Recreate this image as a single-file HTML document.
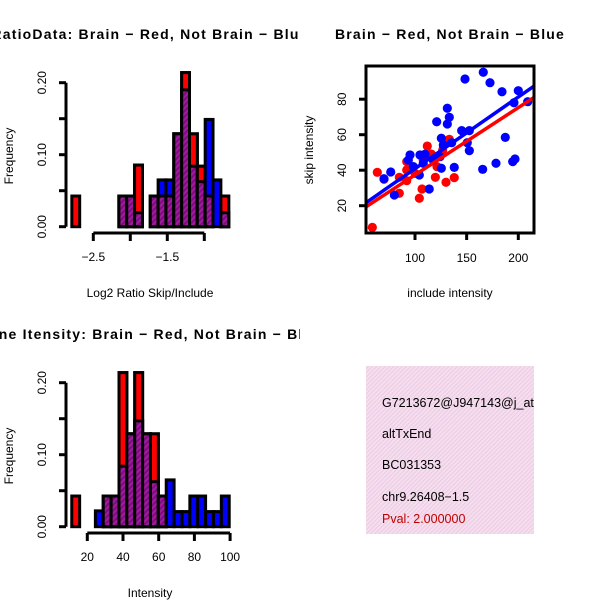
<!DOCTYPE html>
<html><head><meta charset="utf-8"><style>
html,body{margin:0;padding:0;background:#fff}
svg{display:block;font-family:"Liberation Sans",sans-serif}
</style></head><body>
<svg id="root" width="600" height="600" viewBox="0 0 600 600">
<defs>
<pattern id="hatch" width="4" height="4" patternUnits="userSpaceOnUse" patternTransform="rotate(45)">
<rect width="4" height="4" fill="#a21aa0"/><rect width="2" height="4" fill="#7a0f7c"/>
</pattern>
<pattern id="pink" width="3" height="3" patternUnits="userSpaceOnUse" patternTransform="rotate(45)">
<rect width="3" height="3" fill="#f8dcf2"/><rect width="1" height="3" fill="#e6cfdc"/>
</pattern>
<clipPath id="clipL"><rect x="0" y="0" width="300" height="300"/></clipPath>
<clipPath id="clipR"><rect x="300" y="0" width="300" height="300"/></clipPath>
<clipPath id="clipBL"><rect x="0" y="300" width="300" height="300"/></clipPath>
<clipPath id="clipPlot"><rect x="366" y="66" width="168" height="167"/></clipPath>
<clipPath id="clipText"><rect x="366" y="366" width="168" height="168"/></clipPath>
</defs>
<g id="p1" clip-path="url(#clipL)"></g>
<g id="p2" clip-path="url(#clipR)"></g>
<g id="p3" clip-path="url(#clipBL)"></g>
<g id="p4">
<rect x="366" y="366" width="168" height="168" fill="url(#pink)"/>
<g clip-path="url(#clipText)" font-size="12.5">
<text x="382" y="407">G7213672@J947143@j_at</text>
<text x="382" y="438">altTxEnd</text>
<text x="382" y="469">BC031353</text>
<text x="382" y="501">chr9.26408−1.5</text>
<text x="382" y="523" fill="#c00000">Pval: 2.000000</text>
</g>
</g>
</svg>
<script>
// ---- Histogram 1 data (Log2 ratio) ----
const h1Breaks = [-2.79, -0.67];
const h1Red  = [0.0426,0,0,0,0,0,0.0426,0.0426,0.0856,0,0.0426,0.0426,0.0426,0.129,0.214,0.129,0.084,0.0426,0,0.0426];
const h1Blue = [0,0,0,0,0,0,0.0426,0.0426,0.0194,0,0.0426,0.065,0.065,0.129,0.19,0.084,0.0625,0.149,0.065,0.0194];
const h1XTicks = [-2.5,-2.0,-1.5,-1.0];
const h1XLabels = ["−2.5","","−1.5",""];
const h1YTicks = [0,0.05,0.10,0.15,0.20];
const h1YLabels = ["0.00","","0.10","","0.20"];
// ---- Histogram 2 data (Intensity) ----
const h2Breaks = [11.3, 99.5];
const h2Red  = [0.0426,0,0,0,0.0426,0.0426,0.214,0.129,0.214,0.129,0.129,0.0426,0,0,0,0,0,0,0,0];
const h2Blue = [0,0,0,0.022,0.0426,0.0426,0.084,0.129,0.147,0.129,0.0625,0.0426,0.065,0.021,0.021,0.0426,0.0426,0.021,0.021,0.0426];
const h2XTicks = [20,40,60,80,100];
const h2XLabels = ["20","40","60","80","100"];
// ---- Scatter data ----
const redX = [58.7,63.5,70,84.8,84.8,92,92,104.2,106.8,111.9,115.8,119.7,130,138,133.2,126.8,108,100,121.3,92];
const redY = [7.8,38.8,34.9,36.0,27.0,44.8,34.1,24.2,29.4,53.6,49.1,36.0,33.2,35.8,57.4,51.4,45.7,38.2,42.0,40.1];
const blueX = [166.1,148.4,172.6,184.2,200,195.8,209.1,131.3,121,133.2,131.3,145.2,152.6,187.4,125.5,127.4,135.5,150.6,152.6,95.2,93.5,104.8,109.7,98.4,108,125.5,138,76.5,70,80,113.8,165.5,178.4,194.6,196.8,104.2,117.7,124.2];
const blueY = [95.2,91.4,89.3,84.2,84.8,78.0,78.6,74.9,67.3,69.8,66.0,62.3,62.3,58.5,58.0,54.2,55.5,55.5,51.0,48.6,45.7,48.6,49.0,42.0,43.9,41.1,41.6,39.0,35.2,26.0,29.4,40.5,43.9,44.8,46.3,37.3,45.7,47.6];
const redFit = [-0.55, 0.379];   // intercept, slope
const blueFit = [0.45, 0.404];
const scXTicks = [100,150,200];
const scYTicks = [20,40,60,80];

const NS = "http://www.w3.org/2000/svg";
function mk(parent, tag, attrs, text){
  const e = document.createElementNS(NS, tag);
  for (const k in attrs) e.setAttribute(k, attrs[k]);
  if (text !== undefined) e.textContent = text;
  parent.appendChild(e);
  return e;
}

function histogram(g, breaks, red, blue, yBottom, xOfVal, nm){
  const x0 = xOfVal(breaks[0]), x1 = xOfVal(breaks[1]);
  const n = red.length, w = (x1 - x0) / n;
  const yS = v => yBottom - v / 0.05 * 36;
  for (let i = 0; i < n; i++){
    const xl = x0 + i * w;
    const r = red[i], b = blue[i], lo = Math.min(r, b);
    if (r > 0){
      const e = mk(g, "rect", {x: xl, y: yS(r), width: w, height: yBottom - yS(r), fill: "#ff0000", stroke: "#000", "stroke-width": 3});
      
      
    }
    if (b > 0){
      const e = mk(g, "rect", {x: xl, y: yS(b), width: w, height: yBottom - yS(b), fill: "#0000ff", stroke: "#000", "stroke-width": 3});
      
      
    }
    if (r > b && b > 0){
      const e = mk(g, "rect", {x: xl, y: yS(r), width: w, height: yBottom - yS(r), fill: "#ff0000", stroke: "#000", "stroke-width": 3});
      
      
    }
    if (lo > 0){
      const e = mk(g, "rect", {x: xl, y: yS(lo), width: w, height: yBottom - yS(lo), fill: "url(#hatch)", stroke: "#000", "stroke-width": 3});
      
      
    }
  }
  const ya = mk(g, "g", {});
  
  
  mk(ya, "line", {x1: 66, x2: 66, y1: yS(0.2), y2: yS(0), stroke: "#000", "stroke-width": 3});
  h1YTicks.forEach((t, i) => {
    mk(ya, "line", {x1: 59, x2: 66, y1: yS(t), y2: yS(t), stroke: "#000", "stroke-width": 3});
    if (h1YLabels[i]){
      const lb = mk(ya, "text", {x: 0, y: 0, "font-size": 12, "text-anchor": "middle", transform: `translate(46,${yS(t)}) rotate(-90)`}, h1YLabels[i]);
      
      
    }
  });
}

function xAxis(g, ticks, labels, xOf, yLine, nm){
  const ax = mk(g, "g", {});
  
  
  mk(ax, "line", {x1: xOf(ticks[0]), x2: xOf(ticks[ticks.length-1]), y1: yLine, y2: yLine, stroke: "#000", "stroke-width": 3});
  ticks.forEach((t, i) => {
    mk(ax, "line", {x1: xOf(t), x2: xOf(t), y1: yLine, y2: yLine + 8, stroke: "#000", "stroke-width": 3});
    if (labels[i]){
      const lb = mk(ax, "text", {x: xOf(t), y: yLine + 28, "font-size": 12, "text-anchor": "middle"}, labels[i]);
      
      
    }
  });
}

function text(g, x, y, s, name, attrs){
  const t = mk(g, "text", Object.assign({x: x, y: y, "text-anchor": "middle", "font-size": 12}, attrs || {}), s);
  
  
  return t;
}
const TITLE = {"font-size": 14, "font-weight": "bold", "letter-spacing": 1.2};

// Panel 1
const p1 = document.getElementById("p1");
const x1Of = v => 93.3 + (v + 2.5) * 74;
histogram(p1, h1Breaks, h1Red, h1Blue, 226.7, x1Of, "ratio");
xAxis(p1, h1XTicks, h1XLabels, x1Of, 233, "ratio");
text(p1, 150, 39, "RatioData: Brain − Red, Not Brain − Blue", "ratio-title", TITLE);
text(p1, 150, 297, "Log2 Ratio Skip/Include", "ratio-x-title");
text(p1, 0, 0, "Frequency", "ratio-y-title", {transform: "translate(13,156) rotate(-90)"});

// Panel 3
const p3 = document.getElementById("p3");
const x3Of = v => 87.3 + (v - 20) * 1.785;
histogram(p3, h2Breaks, h2Red, h2Blue, 526.7, x3Of, "intensity");
xAxis(p3, h2XTicks, h2XLabels, x3Of, 533, "intensity");
text(p3, 150, 339, "Gene Itensity: Brain − Red, Not Brain − Blue", "intensity-title", TITLE);
text(p3, 150, 597, "Intensity", "intensity-x-title");
text(p3, 0, 0, "Frequency", "intensity-y-title", {transform: "translate(13,456) rotate(-90)"});

// Panel 2 scatter
const p2 = document.getElementById("p2");
const sx = v => 415 + (v - 100) * 1.033;
const sy = v => 205.7 - (v - 20) * 1.775;
const plot = mk(p2, "g", {"clip-path": "url(#clipPlot)"});
redX.forEach((v, i) => {
  const c = mk(plot, "circle", {cx: sx(v), cy: sy(redY[i]), r: 4.6, fill: "#ff0000"});
  
  
});
blueX.forEach((v, i) => {
  const c = mk(plot, "circle", {cx: sx(v), cy: sy(blueY[i]), r: 4.6, fill: "#0000ff"});
  
  
});
const xa = 40, xb = 230;
const bl = mk(plot, "line", {x1: sx(xa), y1: sy(blueFit[0] + blueFit[1]*xa), x2: sx(xb), y2: sy(blueFit[0] + blueFit[1]*xb), stroke: "#0000ff", "stroke-width": 3.5});


const rl = mk(plot, "line", {x1: sx(xa), y1: sy(redFit[0] + redFit[1]*xa), x2: sx(xb), y2: sy(redFit[0] + redFit[1]*xb), stroke: "#ff0000", "stroke-width": 3.5});


const fr = mk(p2, "rect", {x: 366, y: 66, width: 168, height: 167, fill: "none", stroke: "#000", "stroke-width": 3});


scXTicks.forEach(t => {
  mk(p2, "line", {x1: sx(t), x2: sx(t), y1: 233, y2: 240, stroke: "#000", "stroke-width": 3});
  text(p2, sx(t), 262, String(t), "scatter-x-tick-label");
});
scYTicks.forEach(t => {
  mk(p2, "line", {x1: 359, x2: 366, y1: sy(t), y2: sy(t), stroke: "#000", "stroke-width": 3});
  text(p2, 0, 0, String(t), "scatter-y-tick-label", {transform: `translate(346,${sy(t)}) rotate(-90)`});
});
text(p2, 450, 39, "Brain − Red, Not Brain − Blue", "scatter-title", TITLE);
text(p2, 450, 297, "include intensity", "scatter-x-title");
text(p2, 0, 0, "skip intensity", "scatter-y-title", {transform: "translate(313,150) rotate(-90)"});
</script>
</body></html>
